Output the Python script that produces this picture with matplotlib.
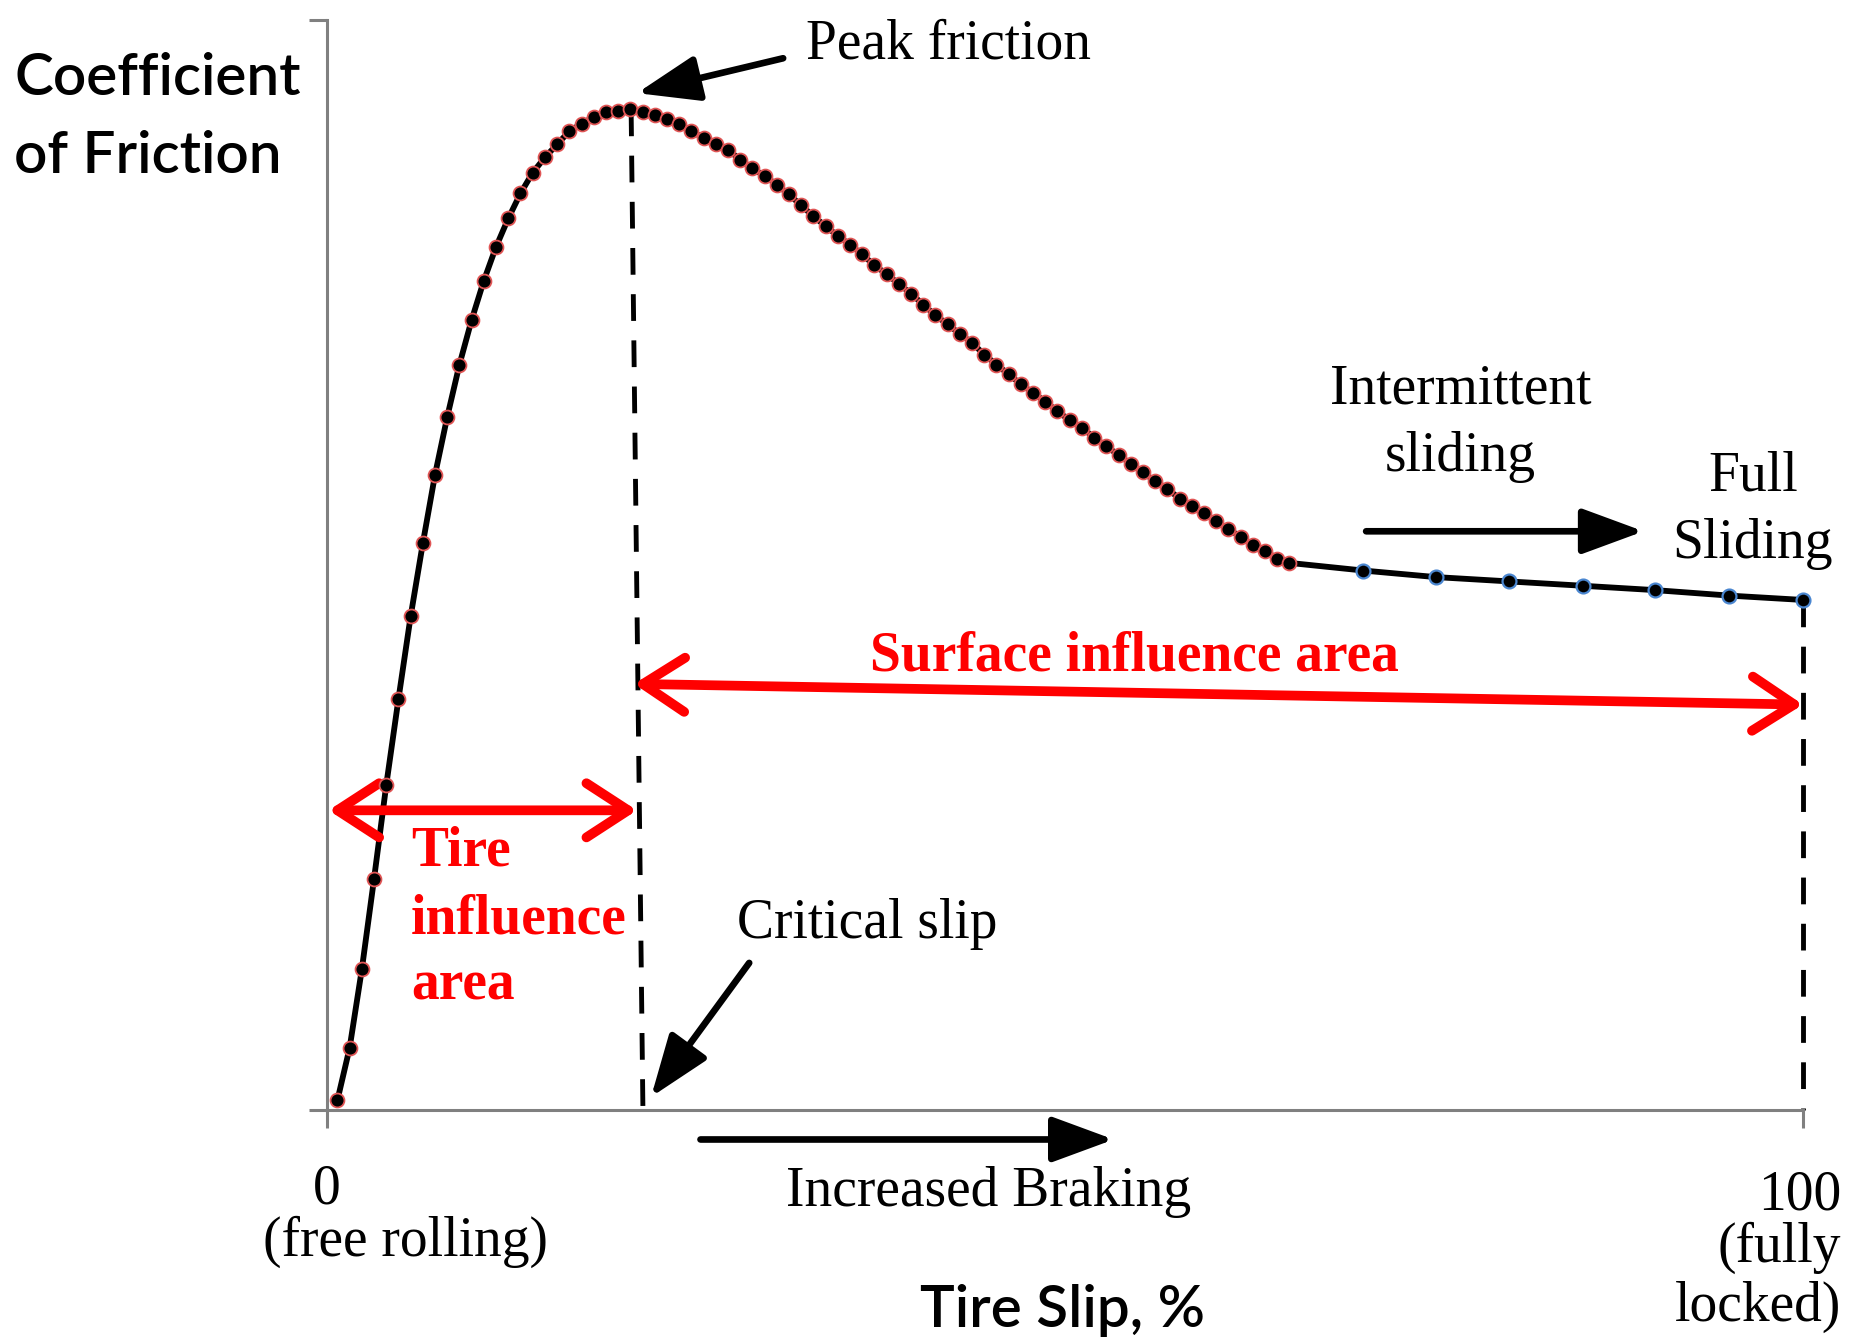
import numpy as np
import matplotlib.pyplot as plt

# tire slip (%) and coefficient of friction
slip_red = np.linspace(0.7, 65.2, 79)
mu_red = [0.009, 0.057, 0.129, 0.212, 0.298, 0.377, 0.453, 0.520, 0.583, 0.636,
          0.684, 0.725, 0.761, 0.792, 0.818, 0.841, 0.860, 0.874, 0.886, 0.898,
          0.905, 0.911, 0.916, 0.917, 0.918, 0.916, 0.913, 0.909, 0.905, 0.898,
          0.892, 0.886, 0.881, 0.872, 0.864, 0.857, 0.849, 0.840, 0.830, 0.820,
          0.811, 0.802, 0.794, 0.785, 0.775, 0.767, 0.758, 0.749, 0.739, 0.729,
          0.721, 0.712, 0.704, 0.693, 0.684, 0.675, 0.666, 0.658, 0.650, 0.641,
          0.633, 0.626, 0.617, 0.609, 0.601, 0.593, 0.585, 0.577, 0.570, 0.561,
          0.554, 0.548, 0.540, 0.533, 0.526, 0.518, 0.513, 0.506, 0.502]
slip_blue = [65.2, 70.2, 75.1, 80.1, 85.1, 90.0, 95.0, 100.0]
mu_blue = [0.502, 0.495, 0.489, 0.485, 0.481, 0.477, 0.472, 0.468]

peak_slip = 20.6
crit_slip = 21.4
peak_mu = 0.918

serif = 'Liberation Serif'
sans = 'Lato'
axis_grey = '#808080'

fig = plt.figure(figsize=(18.5, 13.4), dpi=100)
ax = fig.add_axes([0.1768, 0.1716, 0.7978, 0.8134])
ax.set_xlim(0, 100)
ax.set_ylim(0, 1)

# curve
ax.plot(list(slip_red) + slip_blue[1:], mu_red + mu_blue[1:], color='black', lw=4.2,
        zorder=3, clip_on=False)
ax.plot(slip_red, mu_red, 'o', ms=10, mfc='black', mec='#e05555', mew=1.3,
        zorder=4, clip_on=False)
ax.plot(slip_blue[1:], mu_blue[1:], 'o', ms=10, mfc='black', mec='#4a86d0', mew=1.6,
        zorder=4, clip_on=False)

# dashed guide lines
ax.plot([peak_slip, crit_slip], [peak_mu, 0], color='black', lw=3.5, ls=(0, (5.5, 4)), zorder=2)
ax.plot([100, 100], [mu_blue[-1], 0], color='black', lw=3.5, ls=(0, (5.5, 4)), zorder=2, clip_on=False)

# axes look
for s in ['top', 'right']:
    ax.spines[s].set_visible(False)
for s in ['left', 'bottom']:
    ax.spines[s].set_color(axis_grey)
    ax.spines[s].set_linewidth(2.2)
ax.set_xticks([0, 100])
ax.set_yticks([0, 1])
ax.set_xticklabels([])
ax.set_yticklabels([])
ax.tick_params(direction='out', length=13, width=2.2, color=axis_grey)

# red double arrows
red_arrow = dict(arrowstyle='<->,head_length=1.0,head_width=0.65', color='red', lw=7,
                 mutation_scale=30, shrinkA=0, shrinkB=0, capstyle='round', joinstyle='round')
ax.annotate('', xy=(100, 0.372), xytext=(20.8, 0.391), arrowprops=red_arrow, annotation_clip=False)
ax.annotate('', xy=(21.0, 0.275), xytext=(0.1, 0.275), arrowprops=red_arrow, annotation_clip=False)

# black arrows
blk_arrow = dict(arrowstyle='-|>,head_length=1.9,head_width=0.7', color='black', lw=4.8,
                 mutation_scale=20, shrinkA=0, shrinkB=0)
ax.annotate('', xy=(21.0, 0.933), xytext=(30.9, 0.965), arrowprops=blk_arrow, annotation_clip=False)
ax.annotate('', xy=(21.95, 0.012), xytext=(28.6, 0.135), arrowprops=blk_arrow, annotation_clip=False)
ax.annotate('', xy=(89.2, 0.531), xytext=(70.4, 0.531), arrowprops=blk_arrow, annotation_clip=False)
ax.annotate('', xy=(53.3, -0.027), xytext=(25.3, -0.027), arrowprops=blk_arrow, annotation_clip=False)

# texts
fs = 40
ax.text(42.1, 0.978, 'Peak friction', family=serif, fontsize=fs, ha='center', va='center')
ax.text(36.6, 0.171, 'Critical slip', family=serif, fontsize=fs, ha='center', va='center')
ax.text(76.8, 0.661, 'Intermittent', family=serif, fontsize=fs, ha='center', va='center')
ax.text(76.8, 0.599, 'sliding', family=serif, fontsize=fs, ha='center', va='center')
ax.text(96.6, 0.581, 'Full', family=serif, fontsize=fs, ha='center', va='center')
ax.text(96.6, 0.519, 'Sliding', family=serif, fontsize=fs, ha='center', va='center')
ax.text(44.8, -0.075, 'Increased Braking', family=serif, fontsize=fs, ha='center', va='center')
ax.text(0, -0.073, '0', family=serif, fontsize=fs, ha='center', va='center')
ax.text(5.3, -0.121, '(free rolling)', family=serif, fontsize=fs, ha='center', va='center')
ax.text(102.6, -0.078, '100', family=serif, fontsize=fs, ha='right', va='center')
ax.text(102.6, -0.126, '(fully', family=serif, fontsize=fs, ha='right', va='center')
ax.text(102.6, -0.181, 'locked)', family=serif, fontsize=fs, ha='right', va='center')

ax.text(54.7, 0.416, 'Surface influence area', family=serif, fontsize=fs, color='red',
        weight='bold', ha='center', va='center')
ax.text(5.7, 0.237, 'Tire', family=serif, fontsize=fs, color='red', weight='bold', ha='left', va='center')
ax.text(5.7, 0.175, 'influence', family=serif, fontsize=fs, color='red', weight='bold', ha='left', va='center')
ax.text(5.7, 0.114, 'area', family=serif, fontsize=fs, color='red', weight='bold', ha='left', va='center')

ax.text(-21.2, 0.946, 'Coefficient', family=sans, fontsize=42, weight='semibold', ha='left', va='center')
ax.text(-21.2, 0.875, 'of Friction', family=sans, fontsize=42, weight='semibold', ha='left', va='center')
ax.text(49.8, -0.1835, 'Tire Slip, %', family=sans, fontsize=42, weight='semibold', ha='center', va='center')

fig.savefig('out.png', dpi=100)
